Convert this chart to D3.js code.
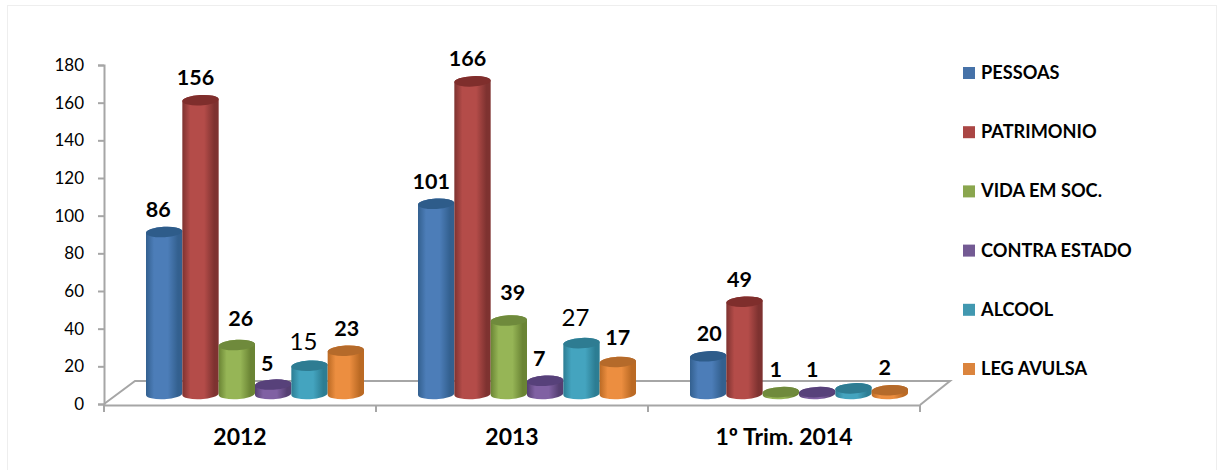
<!DOCTYPE html>
<html><head><meta charset="utf-8">
<script src="https://cdn.jsdelivr.net/npm/d3@7"></script>
<style>html,body{margin:0;padding:0;background:#fff}svg{display:block}text{font-family:Lato,"Open Sans",sans-serif;fill:#000}</style>
</head><body><svg id="c" width="1218" height="470"></svg>
<script>
const categories = ["2012", "2013", "1º Trim. 2014"];
const seriesNames = ["PESSOAS", "PATRIMONIO", "VIDA EM SOC.", "CONTRA ESTADO", "ALCOOL", "LEG AVULSA"];
const pessoas = [86, 101, 20];
const patrimonio = [156, 166, 49];
const vida = [26, 39, 1];
const contra = [5, 7, 1];
const alcool = [15, 27, 3];
const leg = [23, 17, 2];
const seriesValues = [pessoas, patrimonio, vida, contra, alcool, leg];
const yTicks = d3.range(0, 181, 20);
// [edge, body light, top, swatch]
const palette = [
  ["#33608f", "#4c7db8", "#2e5c8a", "#4672a8"],
  ["#7e3230", "#b44c49", "#7f2e2c", "#aa4644"],
  ["#6a8434", "#96b556", "#6f8a3c", "#8aa64e"],
  ["#553f72", "#8061a3", "#57417a", "#735a93"],
  ["#2c7d93", "#44a4bf", "#2e7c92", "#4198b0"],
  ["#bb6a24", "#ec8e40", "#b56a2a", "#db843d"]
];
// label nudges relative to each bar's centre, [series][category]
const labelDx = [[-6,-5,1],[-5,-5,-5],[4,4,-5],[-6,-6,-5],[-6,-6,0],[1,0,-5]];
const labelDy = [[-15,-15,-15],[-15,-15,-15],[-19,-21,-15],[-14,-15,-15],[-16,-17,-15],[-15,-17,-15]];
const lightLabel = new Set(["4-0", "4-1"]);
const hiddenLabel = new Set(["4-2"]);

const svg = d3.select("#c");
const defs = svg.append("defs");
palette.forEach((p, i) => {
  const g = defs.append("linearGradient").attr("id", "g" + i).attr("x1", 0).attr("x2", 1).attr("y1", 0).attr("y2", 0);
  [[0, p[0]], [.22, p[1]], [.6, p[1]], [.88, p[0]], [1, p[0]]].forEach(s => {
    g.append("stop").attr("offset", s[0]).attr("stop-color", s[1]);
  });
});

// faint panel frame, running off the bottom of the picture
svg.append("rect").attr("x", 7.5).attr("y", 5.5).attr("width", 1209).attr("height", 480)
  .attr("fill", "#fff").attr("stroke", "#eeeeee");

const y = d3.scaleLinear().domain([0, 180]).range([404, 65]);
const x0 = d3.scaleBand().domain(categories).range([104, 920]);
const x1 = d3.scaleBand().domain(seriesNames).range([42, 260]);
const axisColor = "#a6a6a6";
const depth = 10, rx = x1.bandwidth() / 2, ry = 5.2, tilt = 3;

// floor
const floorLine = d3.line();
svg.append("path")
  .attr("d", floorLine([[x0.range()[0], y(0)], [x0.range()[0] + 31, y(0) - 23], [x0.range()[1] + 30, y(0) - 23], [x0.range()[1], y(0) + 1]]))
  .attr("fill", "none").attr("stroke", axisColor).attr("stroke-width", 2);

// axes
const yAxis = d3.axisLeft(y).tickValues(yTicks).tickSize(6).tickPadding(14);
const gy = svg.append("g").attr("transform", "translate(104,0)").call(yAxis);
gy.selectAll("path,line").attr("stroke", axisColor).attr("stroke-width", 2);
gy.selectAll("text").style("font-size", "17px").style("font-family", "Lato");

const xAxis = d3.axisBottom(x0).tickSize(0).tickPadding(24);
const gx = svg.append("g").attr("transform", `translate(0,${y(0) + 1})`).call(xAxis);
gx.select(".domain").attr("stroke", axisColor).attr("stroke-width", 2);
gx.selectAll("text").style("font-size", "23px").style("font-weight", 700).style("font-family", "Lato");
const edges = categories.map(c => x0(c)).concat([x0.range()[1]]);
gx.selectAll("line.edge").data(edges).enter().append("line").attr("class", "edge")
  .attr("x1", d => d).attr("x2", d => d).attr("y1", 0).attr("y2", 7)
  .attr("stroke", axisColor).attr("stroke-width", 2);

// cylinders
const dy = rx * Math.sin(tilt * Math.PI / 180);
function bodyPath(cx, top, base) {
  return `M${cx - rx},${top + dy}L${cx - rx},${base + dy}A${rx},${ry} ${-tilt} 0 0 ${cx + rx},${base - dy}L${cx + rx},${top - dy}A${rx},${ry} ${-tilt} 0 0 ${cx - rx},${top + dy}Z`;
}
const bars = [];
categories.forEach((c, ci) => seriesNames.forEach((s, si) => {
  bars.push({ ci, si, c, s, v: seriesValues[si][ci] });
}));
const gb = svg.append("g");
const mark = gb.selectAll("g").data(bars).enter().append("g");
const cxOf = d => x0(d.c) + x1(d.s) + rx;
mark.append("path").attr("d", d => bodyPath(cxOf(d), y(d.v) - depth, y(0) - depth))
  .attr("fill", d => `url(#g${d.si})`);
mark.append("ellipse")
  .attr("cx", cxOf).attr("cy", d => y(d.v) - depth).attr("rx", rx).attr("ry", ry)
  .attr("transform", d => `rotate(${-tilt} ${cxOf(d)} ${y(d.v) - depth})`)
  .attr("fill", d => palette[d.si][2]);

// data labels
svg.append("g").selectAll("text").data(bars.filter(d => !hiddenLabel.has(d.si + "-" + d.ci))).enter().append("text")
  .attr("x", d => cxOf(d) + labelDx[d.si][d.ci])
  .attr("y", d => y(d.v) - depth + labelDy[d.si][d.ci])
  .attr("text-anchor", "middle")
  .style("font-size", d => lightLabel.has(d.si + "-" + d.ci) ? "24px" : "21.5px")
  .style("font-weight", d => lightLabel.has(d.si + "-" + d.ci) ? 400 : 700)
  .text(d => d.v);

// legend
const ly = d3.scalePoint().domain(seriesNames).range([73, 369]);
const lg = svg.append("g").selectAll("g").data(seriesNames).enter().append("g")
  .attr("transform", d => `translate(963,${ly(d)})`);
lg.append("rect").attr("x", 0).attr("y", -6).attr("width", 12).attr("height", 12)
  .attr("fill", (d, i) => palette[i][3]);
lg.append("text").attr("x", 18).attr("y", 6).style("font-size", "18.2px").style("font-weight", 700).text(d => d);
</script></body></html>
